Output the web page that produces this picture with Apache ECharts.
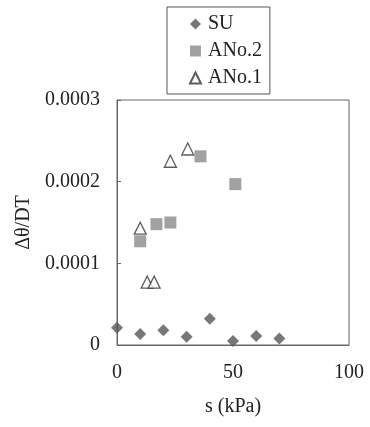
<!DOCTYPE html>
<html>
<head>
<meta charset="utf-8">
<script src="https://cdn.jsdelivr.net/npm/echarts@6/dist/echarts.min.js"></script>
<style>
  html, body { margin: 0; padding: 0; background: #fff; }
  #chart { width: 370px; height: 427px; }
</style>
</head>
<body>
<div id="chart"></div>
<script>
// series values: [s (kPa), dtheta/DT]
const suData = [
  [0, 0.000021], [10, 0.0000135], [20, 0.000018], [30, 0.00001],
  [40, 0.000032], [50, 0.000005], [60, 0.000011], [70, 0.000008]
];
const ano2Data = [
  [10, 0.000127], [17, 0.000148], [23, 0.00015], [36, 0.000231], [51, 0.000197]
];
const ano1Data = [
  [10, 0.000143], [13, 0.000077], [16, 0.000077], [23, 0.000225], [30.5, 0.00024]
];
const yTicks = ['0', '0.0001', '0.0002', '0.0003'];

const chart = echarts.init(document.getElementById('chart'));
const serif = "'Liberation Serif', 'DejaVu Serif', serif";
function txt(extra) {
  return Object.assign({ fontFamily: serif, fontSize: 20, color: '#222' }, extra || {});
}

chart.setOption({
  animation: false,
  textStyle: { fontFamily: serif },
  legend: {
    orient: 'vertical',
    left: 167,
    top: 7,
    padding: [7, 8, 6, 22],
    itemGap: 7,
    itemWidth: 11,
    itemHeight: 11,
    borderColor: '#555',
    borderWidth: 1,
    textStyle: txt({ padding: [0, 0, 0, 2] }),
    data: ['SU', 'ANo.2', 'ANo.1']
  },
  grid: {
    left: 117, right: 21, top: 100, bottom: 82,
    show: true, borderColor: '#666', borderWidth: 1
  },
  xAxis: {
    type: 'value', min: 0, max: 100, interval: 50,
    name: 's (kPa)', nameLocation: 'middle', nameGap: 52,
    nameTextStyle: txt(),
    axisLine: { show: true, lineStyle: { color: '#666' } },
    axisTick: { show: false },
    splitLine: { show: false },
    axisLabel: txt({ margin: 18 })
  },
  yAxis: {
    type: 'value', min: 0, max: 0.0003, interval: 0.0001,
    name: 'Δθ/DT', nameLocation: 'middle', nameGap: 79,
    nameTextStyle: txt(),
    axisLine: { show: true, lineStyle: { color: '#666' } },
    axisTick: { show: true, inside: true, length: 4, lineStyle: { color: '#666' } },
    splitLine: { show: false },
    axisLabel: txt({
      margin: 17,
      formatter: (v) => yTicks[Math.round(v / 0.0001)]
    })
  },
  series: [
    {
      name: 'SU', type: 'scatter', data: suData,
      symbol: 'diamond', symbolSize: 12,
      itemStyle: { color: '#555' }
    },
    {
      name: 'ANo.2', type: 'scatter', data: ano2Data,
      symbol: 'rect', symbolSize: 12,
      itemStyle: { color: '#8a8a8a' }
    },
    {
      name: 'ANo.1', type: 'scatter', data: ano1Data,
      symbol: 'triangle', symbolSize: 12,
      itemStyle: { color: '#fff', borderColor: '#333', borderWidth: 1.3 }
    }
  ]
});
</script>
</body>
</html>
